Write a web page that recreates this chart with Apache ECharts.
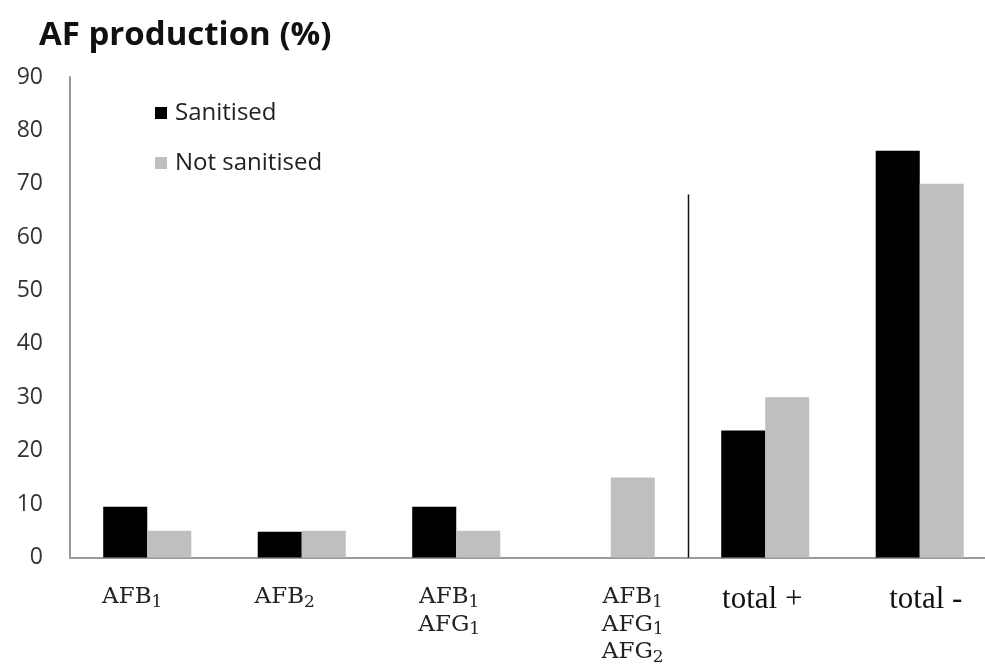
<!DOCTYPE html>
<html>
<head>
<meta charset="utf-8">
<script src="https://cdn.jsdelivr.net/npm/echarts@6/dist/echarts.min.js"></script>
<style>
  html, body { margin: 0; padding: 0; background: #fff; }
  #chart { width: 985px; height: 671px; }
</style>
</head>
<body>
<div id="chart"></div>
<script>
// Aflatoxin groups; a digit after letters is drawn as a subscript
const categories = ['AFB1', 'AFB2', 'AFB1\nAFG1', 'AFB1\nAFG1\nAFG2', 'total +', 'total -'];
const seriesNames = ['Sanitised', 'Not sanitised'];
const sanitised = [9.5, 4.8, 9.5, 0, 23.8, 76.2];
const notSanitised = [5, 5, 5, 15, 30, 70];
const yTicks = { min: 0, max: 90, step: 10 };
// the divider between single groups and totals reaches this value
const dividerTop = 68;

const chart = echarts.init(document.getElementById('chart'));

// horizontal nudge (px) of each category label from its slot centre
const labelNudge = [-15, -17, -7, 22, -3, 6];

const richStyles = {
  m: { fontFamily: 'DejaVu Serif', fontSize: 23, lineHeight: 27.5, color: '#222' },
  s: { fontFamily: 'DejaVu Serif', fontSize: 17, lineHeight: 17, verticalAlign: 'bottom', color: '#222' },
  t: { fontFamily: 'Liberation Serif', fontSize: 31, lineHeight: 32, color: '#111' }
};
labelNudge.forEach(function (n, i) {
  richStyles['g' + i] = { width: Math.max(1, 2 * Math.abs(n)), fontSize: 10, lineHeight: 10 };
});

function labelFormatter(value, index) {
  const n = labelNudge[index] || 0;
  const gap = '{g' + index + '| }';
  function pad(line) {
    if (n === 0) return line;
    return n < 0 ? line + gap : gap + line;
  }
  if (value.indexOf('total') === 0) {
    return pad('{t|' + value + '}');
  }
  return value.split('\n').map(function (line) {
    const m = line.match(/^([A-Z]+)(\d)$/);
    return pad(m ? '{m|' + m[1] + '}{s|' + m[2] + '}' : '{m|' + line + '}');
  }).join('\n');
}

chart.setOption({
  animation: false,
  title: {
    text: 'AF production (%)',
    left: 34,
    top: 14,
    textStyle: {
      fontFamily: 'Open Sans',
      fontWeight: 'bold',
      fontSize: 33,
      color: '#111'
    }
  },
  legend: {
    orient: 'vertical',
    left: 155,
    top: 99,
    padding: 0,
    itemWidth: 12,
    itemHeight: 12,
    itemGap: 22,
    icon: 'rect',
    data: seriesNames,
    textStyle: {
      fontFamily: 'Open Sans',
      fontSize: 24,
      lineHeight: 28,
      color: '#222',
      padding: [0, 0, 0, 3]
    }
  },
  grid: {
    left: 70,
    top: 77,
    width: 927,
    bottom: 113.5,
    outerBoundsMode: 'none'
  },
  xAxis: {
    type: 'category',
    data: categories,
    axisLine: { lineStyle: { color: '#9a9a9a', width: 2 } },
    axisTick: { show: false },
    axisLabel: {
      interval: 0,
      margin: 26,
      formatter: labelFormatter,
      rich: richStyles
    }
  },
  yAxis: {
    type: 'value',
    min: yTicks.min,
    max: yTicks.max,
    interval: yTicks.step,
    axisLine: { show: true, lineStyle: { color: '#9a9a9a', width: 2 } },
    axisTick: { show: false },
    splitLine: { show: false },
    axisLabel: {
      margin: 27,
      fontFamily: 'Open Sans',
      fontSize: 23,
      color: '#333'
    }
  },
  series: [
    {
      name: seriesNames[0],
      type: 'bar',
      data: sanitised,
      barGap: '0%',
      barCategoryGap: '43%',
      itemStyle: { color: '#000000' }
    },
    {
      name: seriesNames[1],
      type: 'bar',
      data: notSanitised,
      barGap: '0%',
      barCategoryGap: '43%',
      itemStyle: { color: '#bfbfbf' }
    }
  ]
});

// vertical divider on the boundary between the 4th and 5th categories
const left = chart.convertToPixel({ xAxisIndex: 0 }, 3);
const right = chart.convertToPixel({ xAxisIndex: 0 }, 4);
const x = Math.round((left + right) / 2) + 0.5;
const yBottom = chart.convertToPixel({ yAxisIndex: 0 }, 0);
const yTop = chart.convertToPixel({ yAxisIndex: 0 }, dividerTop);
chart.setOption({
  graphic: [{
    type: 'line',
    shape: { x1: x, y1: yTop, x2: x, y2: yBottom },
    style: { stroke: '#111', lineWidth: 1.5 },
    z: 10
  }]
});
</script>
</body>
</html>
